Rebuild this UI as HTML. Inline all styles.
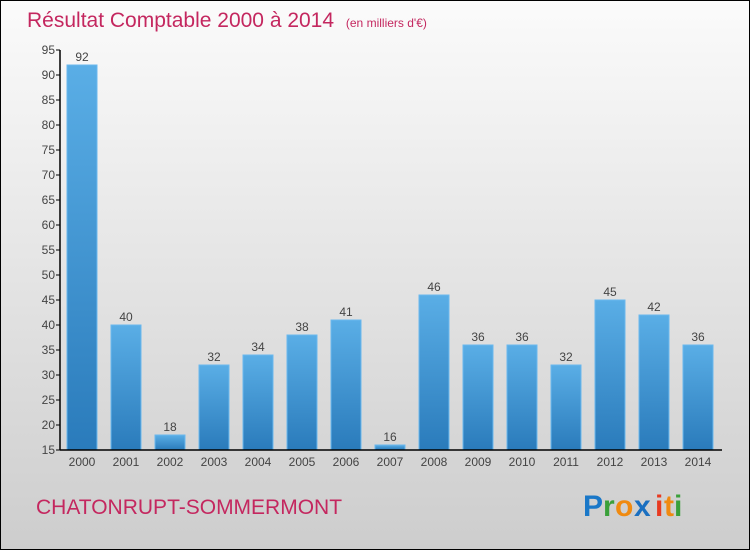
<!DOCTYPE html>
<html><head><meta charset="utf-8"><style>
body{margin:0;width:750px;height:550px;overflow:hidden;font-family:"Liberation Sans",sans-serif}
</style></head><body>
<svg width="750" height="550" xmlns="http://www.w3.org/2000/svg">
<defs>
<linearGradient id="bg" x1="0" y1="0" x2="0" y2="1"><stop offset="0" stop-color="#fbfbfb"/><stop offset="1" stop-color="#cdcdcd"/></linearGradient>
<linearGradient id="bar" x1="0" y1="0" x2="0" y2="1"><stop offset="0" stop-color="#5aaee6"/><stop offset="1" stop-color="#2a7bbb"/></linearGradient>
</defs>
<rect x="0.5" y="0.5" width="749" height="549" fill="url(#bg)" stroke="#000"/>
<text x="27" y="27" font-size="21" fill="#c4275f">Résultat Comptable 2000 à 2014 <tspan font-size="12" dx="6">(en milliers d'€)</tspan></text>
<g id="plot"></g>
<text x="36" y="514" font-size="21" fill="#c4275f">CHATONRUPT-SOMMERMONT</text>
<g font-size="30" font-weight="bold">
<text x="583" y="516" fill="#1a78c8">P</text><text x="603" y="516" fill="#3aa03a">r</text><text x="615" y="516" fill="#f08a10">o</text><text x="634" y="516" fill="#1a6fc0">x</text><text x="655" y="516" fill="#e83a20">i</text><text x="664" y="516" fill="#f08a10">t</text><text x="674" y="516" fill="#3aa03a">i</text>
</g>
</svg>
<script>
const categories=["2000","2001","2002","2003","2004","2005","2006","2007","2008","2009","2010","2011","2012","2013","2014"];
const values=[92,40,18,32,34,38,41,16,46,36,36,32,45,42,36];
const yTicks=[15,20,25,30,35,40,45,50,55,60,65,70,75,80,85,90,95];
const NS="http://www.w3.org/2000/svg";
const plotG=document.getElementById('plot');
const yMin=15,yMax=95,plotTop=50,plotBot=450;
const yS=v=>plotBot-(v-yMin)/(yMax-yMin)*(plotBot-plotTop);
const xS=i=>82+i*44;
function mk(t,a,txt){const e=document.createElementNS(NS,t);for(const k in a)e.setAttribute(k,a[k]);if(txt!=null)e.textContent=txt;plotG.appendChild(e);return e;}
yTicks.forEach(t=>{
 const l=mk('line',{x1:56,x2:60,y1:yS(t),y2:yS(t),stroke:'#000'});
 
 
 const tx=mk('text',{x:55,y:yS(t)+4,'text-anchor':'end','font-size':12,fill:'#444'},t);
 
 
});
values.forEach((v,i)=>{
 const r=mk('rect',{x:xS(i)-15,y:yS(v),width:30,height:plotBot-yS(v),fill:'url(#bar)',stroke:'#6ab8ee','stroke-width':1});
 
 
 const lb=mk('text',{x:xS(i),y:yS(v)-4,'text-anchor':'middle','font-size':12,fill:'#444'},v);
 
 
 const c=mk('text',{x:xS(i),y:466,'text-anchor':'middle','font-size':12,fill:'#444'},categories[i]);
 
 
});
const ya=mk('line',{x1:60,x2:60,y1:plotTop,y2:plotBot,stroke:'#000','stroke-width':1.5});


const xa=mk('line',{x1:60,x2:722,y1:plotBot,y2:plotBot,stroke:'#000','stroke-width':1.5});


</script>
</body></html>
